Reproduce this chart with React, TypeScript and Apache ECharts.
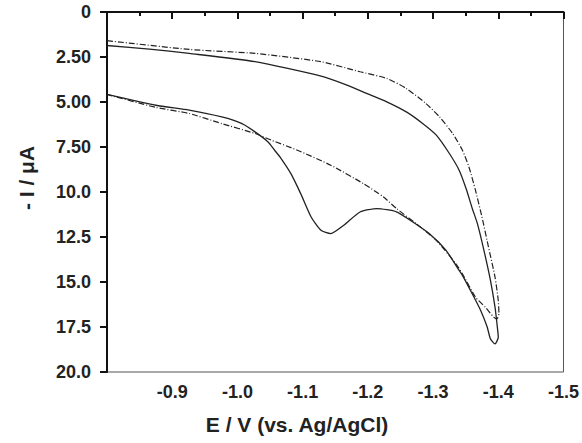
import React, { useEffect, useRef } from "react";
import * as echarts from "echarts";

// Potential E (V vs. Ag/AgCl) and -I (µA)
const solidE = [
  -0.8, -0.865, -0.926, -1.027, -1.127, -1.168, -1.198, -1.229, -1.259, -1.284, -1.305, -1.325, -1.34, -1.351, -1.36,
  -1.368, -1.378, -1.388, -1.395, -1.398, -1.4, -1.395,
  -1.388, -1.383, -1.373, -1.36, -1.345, -1.335, -1.32, -1.294, -1.269, -1.244, -1.214, -1.188, -1.163, -1.143, -1.128,
  -1.113, -1.097, -1.082, -1.067, -1.057, -1.047, -1.027, -1.007, -0.976, -0.926, -0.875, -0.8,
];
const solidI = [
  1.86, 2.06, 2.3, 2.76, 3.55, 4.06, 4.52, 4.99, 5.55, 6.19, 6.84, 7.86, 8.79, 9.85, 10.9,
  11.76, 13.24, 14.91, 16.4, 17.32, 18.07, 18.44,
  18.16, 17.5, 16.58, 15.65, 14.63, 14.08, 13.24, 12.31, 11.67, 11.1, 10.92, 11.11, 11.85, 12.31, 12.13,
  11.39, 10.09, 8.98, 8.14, 7.68, 7.22, 6.66, 6.2, 5.83, 5.45, 5.18, 4.58,
];
const dashE = [
  -0.8, -0.926, -1.027, -1.128, -1.188, -1.229, -1.259, -1.289, -1.31, -1.33, -1.345, -1.355, -1.365, -1.375, -1.385,
  -1.395, -1.4, -1.401, -1.398,
  -1.393, -1.38, -1.365, -1.345, -1.335, -1.305, -1.274, -1.244, -1.224, -1.193, -1.143, -1.092, -1.052, -1.027, -0.976,
  -0.926, -0.875, -0.8,
];
const dashI = [
  1.59, 2.08, 2.3, 2.76, 3.32, 3.69, 4.25, 5.08, 5.83, 6.75, 7.68, 8.61, 9.9, 11.39, 13.06,
  14.73, 16.03, 16.77, 17.05,
  16.95, 16.4, 15.84, 14.54, 13.99, 12.69, 11.76, 10.92, 10.28, 9.53, 8.51, 7.68, 7.12, 6.75, 6.2,
  5.64, 5.3, 4.58,
];

const xTitle = "E / V (vs. Ag/AgCl)";
const yTitle = "- I / μA";

const FONT = 'Arial, "Liberation Sans", sans-serif';

export default function App() {
  const ref = useRef<HTMLDivElement>(null);
  useEffect(() => {
    if (!ref.current) return;
    const chart = echarts.init(ref.current, undefined, { renderer: "svg" });
    const solid = solidE.map((e, i) => [e, solidI[i]]);
    const dash = dashE.map((e, i) => [e, dashI[i]]);
    chart.setOption({
      animation: false,
      backgroundColor: "#fff",
      grid: {
        left: 107,
        right: 13,
        top: 12,
        bottom: 71,
        show: true,
        borderColor: "#555",
        borderWidth: 1,
      },
      xAxis: {
        type: "value",
        min: -1.5,
        max: -0.8,
        interval: 0.1,
        inverse: true,
        axisLine: { show: true, lineStyle: { color: "#111", width: 2 } },
        axisTick: { show: true, length: 7, lineStyle: { color: "#111", width: 2 } },
        minorTick: { show: true, splitNumber: 2, length: 4, lineStyle: { color: "#111", width: 2 } },
        splitLine: { show: false },
        axisLabel: {
          margin: 11,
          fontFamily: FONT,
          fontWeight: "bold",
          fontSize: 18,
          color: "#222",
          formatter: (v: number) => (Math.abs(v + 0.8) < 1e-6 ? "" : v.toFixed(1)),
        },
      },
      yAxis: {
        type: "value",
        min: 0,
        max: 20,
        interval: 2.5,
        inverse: true,
        axisLine: { show: true, lineStyle: { color: "#111", width: 2 } },
        axisTick: { show: true, length: 7, lineStyle: { color: "#111", width: 2 } },
        splitLine: { show: false },
        axisLabel: {
          margin: 16,
          fontFamily: FONT,
          fontWeight: "bold",
          fontSize: 18,
          color: "#222",
          formatter: (v: number) => (v === 0 ? "0" : v.toPrecision(3)),
        },
      },
      graphic: [
        {
          type: "text",
          x: 297,
          y: 424,
          style: {
            text: xTitle,
            font: `bold 21px ${FONT}`,
            fill: "#222",
            align: "center",
            verticalAlign: "middle",
          },
        },
        {
          type: "text",
          x: 26,
          y: 178,
          rotation: Math.PI / 2,
          style: {
            text: yTitle,
            font: `bold 21px ${FONT}`,
            fill: "#222",
            align: "center",
            verticalAlign: "middle",
          },
        },
      ],
      series: [
        {
          type: "line",
          data: solid,
          showSymbol: false,
          smooth: 0.2,
          lineStyle: { color: "#222", width: 1.3, type: "solid" },
        },
        {
          type: "line",
          data: dash,
          showSymbol: false,
          smooth: 0.2,
          lineStyle: { color: "#222", width: 1.2, type: [6, 2, 1, 2] },
        },
      ],
    });
    return () => chart.dispose();
  }, []);
  return (
    <div
      ref={ref}
      style={{ position: "absolute", left: 0, top: 0, width: 582, height: 443 }}
    />
  );
}
